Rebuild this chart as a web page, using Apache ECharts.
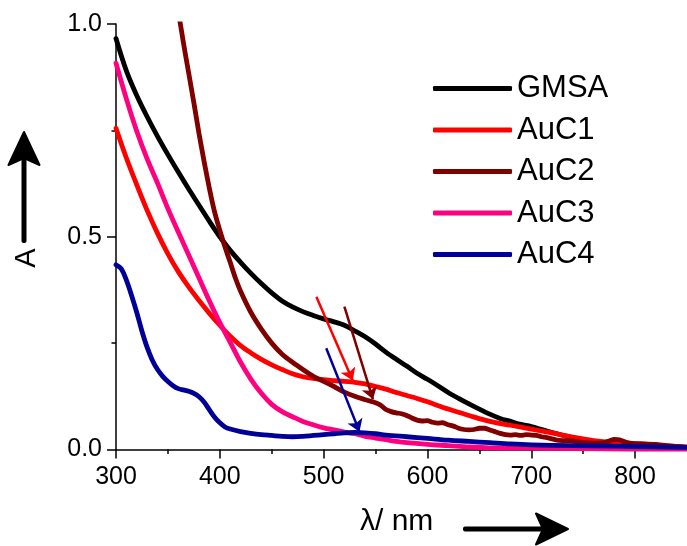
<!DOCTYPE html>
<html>
<head>
<meta charset="utf-8">
<script src="https://cdn.jsdelivr.net/npm/echarts@6/dist/echarts.min.js"></script>
<style>html,body{margin:0;padding:0;background:#fff}#c{width:687px;height:546px}</style>
</head>
<body>
<div id="c"></div>
<script>
// ---- data ----
const seriesNames = ['GMSA', 'AuC1', 'AuC2', 'AuC3', 'AuC4'];
const seriesColors = ['#000000', '#ff0000', '#800000', '#ff0080', '#000099'];

const gmsaX = [300,310,320,330,340,350,360,370,380,390,400,410,420,430,440,450,460,470,480,490,500,510,520,530,540,550,560,570,580,590,600,610,620,630,640,650,660,670,680,690,700,720,740,760,780,800,820,850];
const gmsaY = [0.966,0.89,0.832,0.782,0.736,0.693,0.652,0.612,0.574,0.536,0.500,0.468,0.440,0.414,0.390,0.368,0.349,0.335,0.324,0.315,0.307,0.300,0.292,0.279,0.265,0.248,0.229,0.212,0.196,0.179,0.165,0.150,0.134,0.120,0.107,0.095,0.083,0.073,0.066,0.059,0.054,0.040,0.028,0.019,0.013,0.009,0.007,0.004];

const auc1X = [300,310,320,330,340,350,360,370,380,390,400,410,420,430,440,450,460,470,480,490,500,510,520,530,540,550,560,570,580,590,600,620,640,660,680,700,720,740,760,780,800,820,850];
const auc1Y = [0.755,0.685,0.622,0.562,0.508,0.460,0.418,0.382,0.350,0.320,0.292,0.266,0.244,0.227,0.212,0.199,0.188,0.178,0.171,0.167,0.164,0.162,0.160,0.158,0.154,0.148,0.142,0.134,0.127,0.120,0.112,0.095,0.080,0.066,0.057,0.048,0.039,0.029,0.021,0.016,0.013,0.010,0.006];

const auc2X = [355,360,365,370,375,380,385,390,395,400,405,410,415,420,430,440,450,460,470,480,490,500,510,520,530,540,550,555,560,565,570,575,580,585,590,595,600,605,610,615,620,625,630,635,640,645,650,655,660,665,670,675,680,685,690,695,700,705,710,715,720,725,730,740,750,760,770,775,780,785,790,795,800,810,820,830,840,850];
const auc2Y = [1.10,1.03,0.955,0.885,0.815,0.742,0.675,0.613,0.558,0.515,0.476,0.440,0.403,0.372,0.322,0.283,0.250,0.224,0.205,0.188,0.172,0.160,0.148,0.135,0.125,0.117,0.110,0.104,0.094,0.089,0.086,0.084,0.080,0.074,0.069,0.067,0.068,0.064,0.062,0.063,0.058,0.055,0.050,0.047,0.046,0.047,0.050,0.050,0.046,0.042,0.038,0.035,0.034,0.035,0.033,0.035,0.034,0.033,0.030,0.028,0.025,0.022,0.021,0.020,0.016,0.015,0.016,0.020,0.024,0.023,0.018,0.015,0.014,0.013,0.012,0.009,0.007,0.005];

const auc3X = [300,310,320,330,340,350,360,370,380,390,400,410,420,430,440,450,460,470,480,490,500,510,520,530,540,550,560,570,580,600,620,640,660,700,750,800,850];
const auc3Y = [0.908,0.824,0.748,0.683,0.626,0.566,0.511,0.457,0.403,0.349,0.298,0.252,0.205,0.165,0.132,0.106,0.089,0.077,0.066,0.058,0.051,0.046,0.041,0.037,0.031,0.027,0.023,0.019,0.016,0.012,0.009,0.006,0.004,0.003,0.002,0.001,0.001];

const auc4X = [300,305,310,315,320,325,330,335,340,345,350,355,360,365,370,375,380,385,390,395,400,405,410,420,430,440,450,460,470,480,490,500,510,520,530,540,550,560,580,600,620,640,660,680,700,740,780,820,850];
const auc4Y = [0.434,0.425,0.398,0.362,0.322,0.278,0.240,0.210,0.188,0.172,0.160,0.150,0.143,0.140,0.137,0.132,0.124,0.111,0.093,0.076,0.063,0.053,0.048,0.042,0.038,0.035,0.033,0.031,0.030,0.031,0.033,0.035,0.037,0.039,0.040,0.039,0.037,0.034,0.030,0.026,0.022,0.019,0.016,0.013,0.011,0.009,0.008,0.006,0.005];

const xMajorTicks = [300, 400, 500, 600, 700, 800];
const xMinorTicks = [350, 450, 550, 650, 750];

// annotation arrows [start, end] in data coordinates
const arrowAuC1 = [[493, 0.359], [528, 0.162]];
const arrowAuC2 = [[520, 0.336], [547.5, 0.118]];
const arrowAuC4 = [[502.5, 0.238], [534.5, 0.042]];

// ---- build ----
const allX = [gmsaX, auc1X, auc2X, auc3X, auc4X];
const allY = [gmsaY, auc1Y, auc2Y, auc3Y, auc4Y];
const arrows = [null, arrowAuC1, arrowAuC2, null, arrowAuC4];
const FONT = 'Liberation Sans, Arial, sans-serif';

const series = seriesNames.map((name, i) => {
  const s = {
    name: name,
    type: 'line',
    xAxisIndex: 0,
    data: allX[i].map((x, k) => [x, allY[i][k]]),
    showSymbol: false,
    symbol: 'none',
    smooth: i === 2 ? 0.15 : 0.35,
    clip: true,
    lineStyle: { color: seriesColors[i], width: 4.8, cap: 'round', join: 'round' },
    itemStyle: { color: seriesColors[i] },
    emphasis: { disabled: true },
    z: 2 + i
  };
  if (arrows[i]) {
    s.markLine = {
      silent: true,
      symbol: ['none', 'arrow'],
      symbolSize: 12,
      label: { show: false },
      lineStyle: { color: seriesColors[i], width: 2.5, type: 'solid' },
      itemStyle: { color: seriesColors[i] },
      emphasis: { disabled: true },
      data: [[{ coord: arrows[i][0] }, { coord: arrows[i][1] }]]
    };
  }
  return s;
});

const chart = echarts.init(document.getElementById('c'), null, { renderer: 'canvas' });
chart.setOption({
  animation: false,
  backgroundColor: '#ffffff',
  grid: { left: 116, right: 0, top: 24, bottom: 96.5, containLabel: false },
  legend: {
    orient: 'vertical',
    left: 428,
    top: 68,
    itemWidth: 79,
    itemHeight: 5,
    itemGap: 10.5,
    icon: 'roundRect',
    selectedMode: false,
    textStyle: { fontFamily: FONT, fontSize: 31, color: '#000', lineHeight: 31, padding: [0, 0, 0, 0] },
    data: seriesNames
  },
  xAxis: [{
    type: 'value', min: 300, max: 850, interval: 100,
    axisLine: { show: true, onZero: false, lineStyle: { color: '#000', width: 1.5 } },
    axisTick: { show: true, inside: false, length: 9, lineStyle: { color: '#000', width: 1.5 }, customValues: xMajorTicks },
    axisLabel: { show: true, margin: 15, color: '#000', fontFamily: FONT, fontSize: 25, customValues: xMajorTicks },
    splitLine: { show: false }
  }, {
    type: 'value', min: 300, max: 850, interval: 50, position: 'bottom',
    axisLine: { show: false },
    axisTick: { show: true, inside: false, length: 4.5, lineStyle: { color: '#000', width: 1.5 }, customValues: xMinorTicks },
    axisLabel: { show: false },
    splitLine: { show: false }
  }],
  yAxis: {
    type: 'value', min: 0, max: 1, interval: 0.5,
    axisLine: { show: true, lineStyle: { color: '#000', width: 1.5 } },
    axisTick: { show: true, inside: false, length: 9, lineStyle: { color: '#000', width: 1.5 } },
    minorTick: { show: true, splitNumber: 2, length: 4.5, lineStyle: { color: '#000', width: 1.5 } },
    axisLabel: { margin: 14, color: '#000', fontFamily: FONT, fontSize: 25, formatter: v => v.toFixed(1) },
    splitLine: { show: false }
  },
  graphic: [
    { type: 'text', x: 27, y: 258, rotation: Math.PI / 2,
      style: { text: 'A', font: '29px ' + FONT, fill: '#000', align: 'center', verticalAlign: 'middle' } },
    { type: 'rect', shape: { x: 21.5, y: 158, width: 5, height: 85, r: 2 }, style: { fill: '#000' } },
    { type: 'polygon', shape: { points: [[24, 132], [39.5, 165], [24, 158], [8.5, 165]] }, style: { fill: '#000', stroke: '#000', lineWidth: 2, lineJoin: 'round' } },
    { type: 'text', x: 360, y: 522,
      style: { text: 'λ/ nm', font: '30px ' + FONT, fill: '#000', align: 'left', verticalAlign: 'middle' } },
    { type: 'rect', shape: { x: 463, y: 526.5, width: 80, height: 5, r: 2 }, style: { fill: '#000' } },
    { type: 'polygon', shape: { points: [[568, 529], [536, 513.5], [543, 529], [536, 544.5]] }, style: { fill: '#000', stroke: '#000', lineWidth: 2, lineJoin: 'round' } }
  ],
  series: series
});
</script>
</body>
</html>
